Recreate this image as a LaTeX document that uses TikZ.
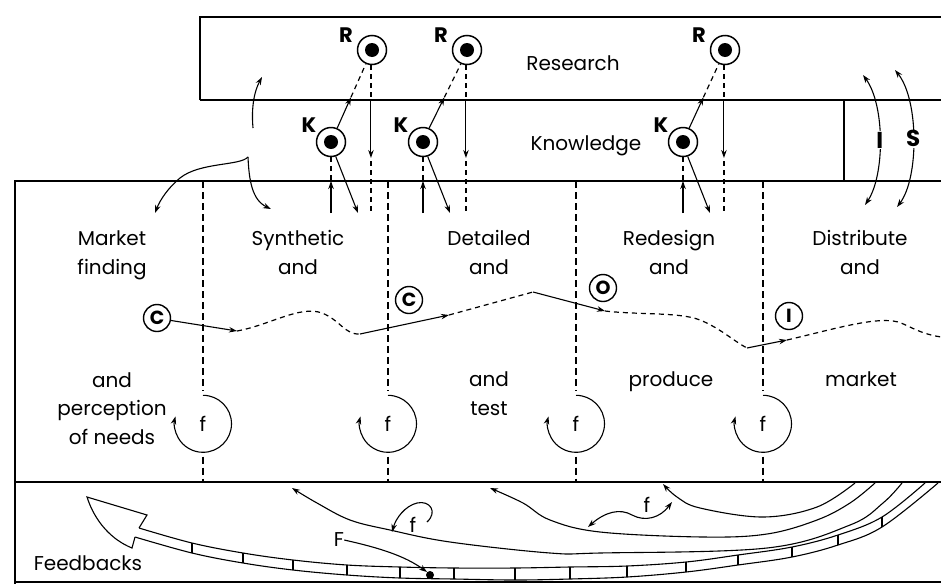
\documentclass[tikz,border=0pt]{standalone}
\usepackage{fontspec}
\setmainfont{Poppins}
\usetikzlibrary{arrows.meta,calc}

\tikzset{
  frame/.style={line width=1.5pt},
  sep/.style={line width=1.2pt, dash pattern=on 7pt off 4pt},
  dsh/.style={line width=1.2pt, dash pattern=on 5pt off 4pt},
  tipstyle/.style={-{Stealth[length=8pt,width=5.5pt]}},
  arr/.style={line width=1.1pt, tipstyle},
  darr/.style={line width=1.1pt, {Stealth[length=8pt,width=5.5pt]}-{Stealth[length=8pt,width=5.5pt]}},
  thin/.style={line width=1.1pt},
  lbl/.style={font=\fontsize{20}{28.5}\selectfont, align=center, inner sep=0pt},
  tag/.style={font=\bfseries\fontsize{21}{21}\selectfont, inner sep=0pt},
  bigtag/.style={font=\bfseries\fontsize{23}{23}\selectfont, inner sep=1pt, fill=white},
  dotring/.style={circle, draw, line width=1.5pt, minimum size=29pt, inner sep=0pt,
    path picture={\fill (path picture bounding box.center) circle (7pt);}},
  ring/.style={circle, draw, line width=1.4pt, minimum size=27pt, inner sep=0pt,
    font=\bfseries\fontsize{19}{19}\selectfont},
  loopnode/.style={circle, minimum size=57pt, inner sep=0pt, font=\fontsize{20}{20}\selectfont},
}

\begin{document}
\begin{tikzpicture}[x=1pt,y=1pt]
\useasboundingbox (0,0) rectangle (941,-584);

% reference levels
\coordinate (restop) at (0,-17);
\coordinate (resbot) at (0,-100);
\coordinate (topline) at (0,-181);
\coordinate (midline) at (0,-482);
\coordinate (rarrow) at (0,-158);
\coordinate (rlow) at (0,-161);
\coordinate (kend) at (0,-213);

% frame of the three bands
\draw[frame] (200,-100) -- (200,-17) -- (941,-17);
\draw[frame] (200,-100) -- (941,-100);
\draw[frame] (844,-100) -- (844,-181);
\draw[frame] (941,-181) -- (15,-181) -- (15,-584);
\draw[frame] (15,-482) -- (941,-482);
\draw[frame] (15,-582) -- (941,-582);

% band titles
\node[lbl, anchor=base] (res) at (573,-70) {Research};
\node[lbl, anchor=base] (knw) at (586,-150) {Knowledge};

% stage labels (anchored on the baseline of the last line)
\node[lbl, anchor=base] (mkt) at (112,-274) {Market\\finding};
\node[lbl, anchor=base] (syn) at (298,-274) {Synthetic\\and};
\node[lbl, anchor=base] (det) at (489,-274) {Detailed\\and};
\node[lbl, anchor=base] (red) at (669,-274) {Redesign\\and};
\node[lbl, anchor=base] (dis) at (860,-274) {Distribute\\and};
\node[lbl, anchor=base] (per) at (112,-444) {and\\perception\\of needs};
\node[lbl, anchor=base] (tst) at (489,-415) {and\\test};
\node[lbl, anchor=base] (pro) at (671,-386) {produce};
\node[lbl, anchor=base] (mar) at (861,-386) {market};

% stage separators with local feedback loops
\foreach \i/\sx in {1/203, 2/388, 3/576, 4/763} {
  \node[loopnode] (f\i) at (\sx,-424) {f};
  \draw[arr] (f\i.90) arc[start angle=90, end angle=-195, radius=28.5pt];
  \draw[sep, shorten >=4pt] (f\i |- topline) -- (f\i.north);
  \draw[sep, shorten <=4pt] (f\i.south) -- (f\i |- midline);
}

% research / knowledge links
\foreach \i/\kx/\rx in {1/331/372, 2/423/467, 3/683/725} {
  \node[dotring] (K\i) at (\kx,-142) {};
  \node[dotring] (R\i) at (\rx,-50) {};
  \node[tag] (KL\i) at ($(K\i)+(-22,17)$) {K};
  \node[tag] (RL\i) at ($(R\i)+(-26,15)$) {R};
  \coordinate (KR\i) at ($(K\i.66)!0.48!(R\i.246)$);
  \draw[arr] (K\i.66) -- (KR\i);
  \draw[dsh] (KR\i) -- (R\i.246);
  \draw[dsh] (R\i.266) -- (R\i.266 |- resbot);
  \draw[arr] (R\i.266 |- resbot) -- (R\i.266 |- rarrow);
  \draw[dsh] (R\i.266 |- rlow) -- (R\i.266 |- kend);
  \draw[dsh] (K\i.south) -- (K\i.south |- topline);
  \draw[arr] (K\i.south |- kend) -- (K\i.south |- topline);
  \coordinate (KD\i) at ($(K\i)+(27,-71)$);
  \draw[arr] (K\i.-72) -- (KD\i);
}

% market finding feeds research and synthesis
\coordinate (up0) at (253,-128);
\coordinate (up1) at (262,-77);
\draw[arr] (up0) .. controls (251,-105) and (255,-90) .. (up1);
\coordinate (cusp) at (248,-157);
\coordinate (brl) at (155,-213);
\coordinate (brr) at (271,-209);
\draw[arr] (cusp) .. controls (240,-166) and (200,-162) .. (180,-178)
  .. controls (168,-188) and (160,-200) .. (brl);
\draw[arr] (cusp) .. controls (249,-180) and (252,-200) .. (brr);

% information and sales loops
\coordinate (Itop) at (863,-75);
\coordinate (Ibot) at (865,-205);
\coordinate (Stop) at (895,-70);
\coordinate (Sbot) at (897,-207);
\draw[darr] (Itop) .. controls (885,-105) and (885,-175) ..
  node[bigtag] (Ilab) {I} (Ibot);
\draw[darr] (Stop) .. controls (919,-100) and (919,-178) ..
  node[bigtag] (Slab) {S} (Sbot);

% innovation path through the stages
\node[ring] (C1) at (157,-318) {C};
\node[ring] (C2) at (409,-300) {C};
\node[ring] (O1) at (603,-288) {O};
\node[ring] (I1) at (789,-316) {I};
\coordinate (p1) at (237,-331);
\coordinate (p2) at (360,-334);
\coordinate (p3) at (449,-315);
\coordinate (p4) at (533,-292);
\coordinate (p5) at (605,-311);
\coordinate (p6) at (747,-348);
\coordinate (p7) at (787,-340);
\coordinate (p8) at (941,-337);
\draw[arr] (C1.-10) -- (p1);
\draw[dsh] (p1) .. controls (270,-325) and (300,-305) .. (322,-313)
  .. controls (340,-320) and (345,-335) .. (p2);
\draw[arr] (p2) -- (p3);
\draw[dsh] (p3) -- (p4);
\draw[arr] (p4) -- (p5);
\draw[dsh] (p5) .. controls (640,-315) and (680,-312) .. (700,-320)
  .. controls (720,-328) and (735,-342) .. (p6);
\draw[arr] (p6) -- (p7);
\draw[dsh] (p7) .. controls (830,-330) and (870,-318) .. (893,-321)
  .. controls (905,-322) and (915,-333) .. (p8);

% feedback arcs
\draw[arr] plot[smooth, tension=0.6] coordinates {(855,-483) (817,-507) (763,-517)
  (700,-508) (677,-497) (663,-484)};
\draw[arr] plot[smooth, tension=0.6] coordinates {(875,-483) (850,-503) (817,-520)
  (767,-534) (703,-537) (600,-532) (550,-520) (523,-503) (490,-488)};
\draw[arr] plot[smooth, tension=0.6] coordinates {(902,-483) (883,-503) (850,-525)
  (767,-548) (600,-553) (550,-553) (450,-542) (390,-530) (350,-520) (317,-503) (292,-488)};

% main feedback channel
\draw[thin] plot[smooth, tension=0.6] coordinates {(139,-528) (192,-543) (243,-553) (293,-560)
  (347,-565) (400,-567) (454,-568) (515,-568) (570,-567) (627,-566) (686,-562) (738,-555)
  (792,-547) (838,-535) (882,-517) (925,-483)};
\draw[thin] plot[smooth, tension=0.6] coordinates {(135,-537) (192,-553) (243,-563) (293,-570)
  (347,-575) (400,-578) (454,-579) (515,-580) (570,-579) (627,-577) (686,-572) (738,-565)
  (792,-557) (838,-545) (882,-527) (938,-483)};
\foreach \tx/\ta/\tb in {192/543/553, 243/553/563, 293/560/570, 347/565/575, 400/567/578,
  454/568/579, 515/568/580, 570/567/579, 627/566/577, 686/562/572, 738/555/565,
  792/547/557, 838/535/545, 882/517/527} {
  \draw[thin] (\tx,-\ta) -- (\tx,-\tb);
}
\draw[thin, fill=white] (139,-528) -- (147,-515) -- (87,-497)
  .. controls (95,-522) and (112,-540) .. (132,-548) -- (135,-537);

\node[lbl, anchor=base] (fb) at (88,-570) {Feedbacks};

% measured feedback
\node[circle, fill, inner sep=0pt, minimum size=8pt] (dot) at (430,-575) {};
\node[lbl] (Flab) at (339,-540) {F};
\draw[arr] (Flab.east) .. controls (380,-548) and (405,-556) .. (dot.north west);

\node[lbl] (fs1) at (413,-525) {f};
\coordinate (h0) at (427,-522);
\coordinate (h1) at (392,-532);
\draw[arr] (h0) .. controls (438,-512) and (430,-500) .. (417,-503)
  .. controls (405,-506) and (396,-518) .. (h1);

\node[lbl] (fs2) at (647,-505) {f};
\coordinate (w0) at (588,-527);
\coordinate (w1) at (672,-502);
\draw[darr] (w0) .. controls (605,-512) and (620,-508) .. (632,-515)
  .. controls (645,-522) and (660,-518) .. (w1);
\end{tikzpicture}
\end{document}
